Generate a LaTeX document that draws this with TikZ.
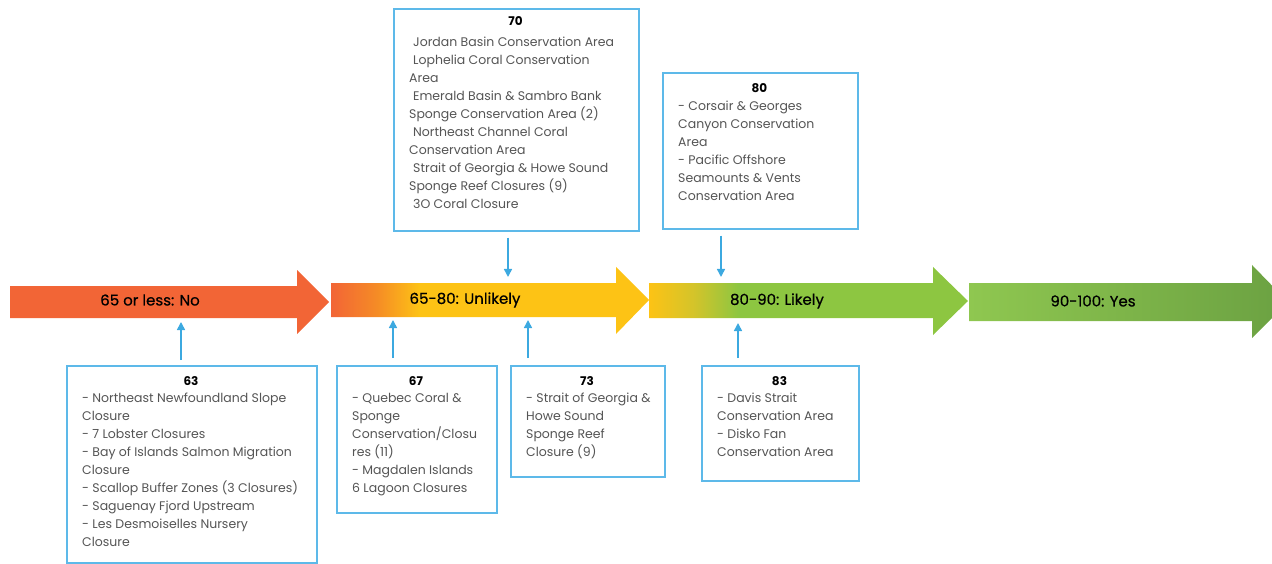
\documentclass[tikz,border=0pt]{standalone}
\usepackage{fontspec}
\setmainfont{Poppins}
\newfontfamily\labelfont[FakeBold=0.6]{Poppins}
\usetikzlibrary{arrows.meta}
\definecolor{boxblue}{HTML}{5DB9E9}
\definecolor{conblue}{HTML}{3CA9E0}
\definecolor{redor}{HTML}{F26536}
\definecolor{orng}{HTML}{F58A26}
\definecolor{yel}{HTML}{FDC315}
\definecolor{olive}{HTML}{D4C42A}
\definecolor{grn}{HTML}{8DC641}
\definecolor{lgrn}{HTML}{8FC750}
\definecolor{dgrn}{HTML}{6BA142}
\definecolor{txtgray}{HTML}{555555}
\pgfdeclarehorizontalshading{shA}{100bp}{color(0bp)=(redor); color(25bp)=(redor); color(32bp)=(orng); color(39bp)=(yel); color(100bp)=(yel)}
\pgfdeclarehorizontalshading{shB}{100bp}{color(0bp)=(yel); color(25bp)=(yel); color(32bp)=(olive); color(39bp)=(grn); color(100bp)=(grn)}
\pgfdeclarehorizontalshading{shC}{100bp}{color(0bp)=(lgrn); color(25bp)=(lgrn); color(75bp)=(dgrn); color(100bp)=(dgrn)}
\tikzset{
  infobox/.style={draw=boxblue, line width=1.6pt, fill=white, inner sep=0pt, anchor=north west},
  boxtext/.style={anchor=north west, inner sep=0pt, align=left, text=txtgray, font=\fontsize{12.5}{18}\selectfont},
  boxtitle/.style={anchor=base, inner sep=0pt, font=\fontsize{12}{14}\selectfont\bfseries},
  arrlabel/.style={inner sep=0pt, font=\labelfont\fontsize{15}{18}\selectfont},
  conn/.style={draw=conblue, line width=1.5pt, -{Triangle[width=8pt,length=8pt]}}
}
\begin{document}
\begin{tikzpicture}[x=1pt,y=-1pt]
\useasboundingbox (0,0) rectangle (1272,564);
% big arrows
\fill[redor] (10,286) -- (297,286) -- (297,270) -- (329,302) -- (297,334) -- (297,318) -- (10,318) -- cycle;
\shade[shading=shA] (331,283) -- (616,283) -- (616,267) -- (649,300) -- (616,334) -- (616,317) -- (331,317) -- cycle;
\shade[shading=shB] (649,283) -- (933,283) -- (933,267) -- (968,301) -- (933,335) -- (933,318) -- (649,318) -- cycle;
\shade[shading=shC] (969,283) -- (1252,283) -- (1252,265) -- (1288,302) -- (1252,338) -- (1252,321) -- (969,321) -- cycle;
\node[arrlabel] (l1) at (150,300) {65 or less: No};
\node[arrlabel] (l2) at (465,300) {65-80: Unlikely};
\node[arrlabel] (l3) at (777,301) {80-90: Likely};
\node[arrlabel] (l4) at (1093,301) {90-100: Yes};
% connector tips
\coordinate (t70) at (508,277);
\coordinate (t80) at (721,277);
\coordinate (t63) at (181,322);
\coordinate (t67) at (393,320);
\coordinate (t73) at (528,320);
\coordinate (t83) at (738,323);
% boxes
\node[infobox, minimum width=245, minimum height=222] (b70) at (393,8) {};
\node[boxtitle] (h70) at (515.5,26) {70};
\node[boxtext] (x70) at (409,34) {\strut\hspace*{4pt}Jordan Basin Conservation Area\\
\hspace*{4pt}Lophelia Coral Conservation\\
Area\\
\hspace*{4pt}Emerald Basin \& Sambro Bank\\
Sponge Conservation Area (2)\\
\hspace*{4pt}Northeast Channel Coral\\
Conservation Area\\
\hspace*{4pt}Strait of Georgia \& Howe Sound\\
Sponge Reef Closures (9)\\
\hspace*{4pt}3O Coral Closure};

\node[infobox, minimum width=195, minimum height=156] (b80) at (662,72) {};
\node[boxtitle] (h80) at (759.5,93) {80};
\node[boxtext] (x80) at (678,98) {\strut- Corsair \& Georges\\
Canyon Conservation\\
Area\\
- Pacific Offshore\\
Seamounts \& Vents\\
Conservation Area};

\node[infobox, minimum width=250, minimum height=197] (b63) at (66,365) {};
\node[boxtitle] (h63) at (191,385) {63};
\node[boxtext] (x63) at (82,390) {\strut- Northeast Newfoundland Slope\\
Closure\\
- 7 Lobster Closures\\
- Bay of Islands Salmon Migration\\
Closure\\
- Scallop Buffer Zones (3 Closures)\\
- Saguenay Fjord Upstream\\
- Les Desmoiselles Nursery\\
Closure};

\node[infobox, minimum width=160, minimum height=147] (b67) at (336,365) {};
\node[boxtitle] (h67) at (416,385) {67};
\node[boxtext] (x67) at (352,390) {\strut- Quebec Coral \&\\
Sponge\\
Conservation/Closu\\
res (11)\\
- Magdalen Islands\\
6 Lagoon Closures};

\node[infobox, minimum width=154, minimum height=111] (b73) at (510,365) {};
\node[boxtitle] (h73) at (587,385) {73};
\node[boxtext] (x73) at (526,390) {\strut- Strait of Georgia \&\\
Howe Sound\\
Sponge Reef\\
Closure (9)};

\node[infobox, minimum width=157, minimum height=115] (b83) at (701,365) {};
\node[boxtitle] (h83) at (779.5,385) {83};
\node[boxtext] (x83) at (717,390) {\strut- Davis Strait\\
Conservation Area\\
- Disko Fan\\
Conservation Area};

% connectors
\draw[conn] (b70.south -| t70) ++(0,6) -- (t70);
\draw[conn] (b80.south -| t80) ++(0,6) -- (t80);
\draw[conn] (b63.north -| t63) ++(0,-5) -- (t63);
\draw[conn] (b67.north -| t67) ++(0,-7) -- (t67);
\draw[conn] (b73.north -| t73) ++(0,-7) -- (t73);
\draw[conn] (b83.north -| t83) ++(0,-7) -- (t83);
\end{tikzpicture}
\end{document}
